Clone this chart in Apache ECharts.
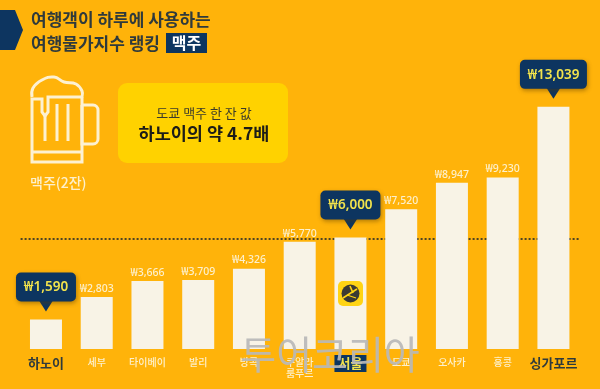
<!DOCTYPE html>
<html>
<head>
<meta charset="utf-8">
<style>
  html, body { margin: 0; padding: 0; background: #ffb30a; }
  #main { width: 600px; height: 389px; }
</style>
<script src="https://cdn.jsdelivr.net/npm/echarts@6/dist/echarts.min.js"></script>
</head>
<body>
<div id="main"></div>
<script>
var cities = ['하노이', '세부', '타이베이', '발리', '방콕', '쿠알라\n룸푸르', '서울', '도쿄', '오사카', '홍콩', '싱가포르'];
var prices = [1590, 2803, 3666, 3709, 4326, 5770, 6000, 7520, 8947, 9230, 13039];
// 말풍선으로 강조하는 도시 (cities 인덱스)
var calloutIdx = [0, 6, 10];
var seoulLine = 5930;

var FONT = '"Noto Sans CJK KR", "Noto Sans", sans-serif';
var NUM_FONT = '"Noto Sans", "Noto Sans CJK KR", sans-serif';
var BG = '#ffb30a';
var CREAM = '#f8f3e6';
var LABEL = '#fdf0cc';
var NAVY = '#0d3560';
var DARK = '#2f3a3c';
var MUG = '#fdf1d2';

function won(v) {
  return '₩' + v.toLocaleString('en-US');
}

function cityLabel(name) {
  if (name === '하노이' || name === '싱가포르') return '{strong|' + name + '}';
  if (name === '서울') return '{seoul|' + name + '}';
  if (name.indexOf('\n') > -1) {
    var p = name.split('\n');
    return '{normal|' + p[0] + '}\n{second|' + p[1] + '}';
  }
  return '{normal|' + name + '}';
}

// 말풍선 (박스 + 꼬리 + 금액)
function renderCallout(params, api) {
  var pos = api.coord([api.value(0), api.value(1)]);
  var text = won(api.value(1));
  var w = text.length > 6 ? 67 : 60;
  var tipY = pos[1] - 8;
  var boxBottom = tipY - 10;
  var boxTop = boxBottom - 29;
  return {
    type: 'group',
    children: [
      {
        type: 'polygon',
        shape: { points: [[pos[0] - 7, boxBottom - 1], [pos[0] + 7, boxBottom - 1], [pos[0], tipY]] },
        style: { fill: NAVY }
      },
      {
        type: 'rect',
        shape: { x: pos[0] - w / 2, y: boxTop, width: w, height: 29, r: 5 },
        style: { fill: NAVY, shadowBlur: 4, shadowOffsetX: 1, shadowOffsetY: 2, shadowColor: 'rgba(90,60,0,0.45)' }
      },
      {
        type: 'text',
        style: {
          text: text, x: pos[0], y: boxTop + 15,
          fill: '#f2e34c', font: '600 13.5px ' + NUM_FONT,
          textAlign: 'center', textVerticalAlign: 'middle'
        }
      }
    ]
  };
}

function calloutData() {
  return calloutIdx.map(function (i) { return [i, prices[i]]; });
}

var chart = echarts.init(document.getElementById('main'));
chart.setOption({
  backgroundColor: BG,
  animation: false,
  textStyle: { fontFamily: FONT },
  grid: { left: 20.6, right: 21.2, top: 89, bottom: 40 },
  xAxis: {
    type: 'category',
    data: cities,
    axisLine: { show: false },
    axisTick: { show: false },
    axisLabel: {
      interval: 0,
      margin: 6,
      formatter: cityLabel,
      rich: {
        normal: { fontFamily: FONT, fontSize: 10, fontWeight: 500, color: LABEL, lineHeight: 14 },
        second: { fontFamily: FONT, fontSize: 10, fontWeight: 500, color: LABEL, lineHeight: 9 },
        strong: { fontFamily: FONT, fontSize: 13, fontWeight: 'bold', color: DARK, lineHeight: 16 },
        seoul: { fontFamily: FONT, fontSize: 13, fontWeight: 'bold', color: '#f2e34c', backgroundColor: NAVY, width: 32, height: 17, lineHeight: 17, align: 'center' }
      }
    }
  },
  yAxis: { type: 'value', min: 0, max: 14000, show: false, splitLine: { show: false } },
  series: [
    {
      type: 'bar',
      z: 3,
      data: prices.map(function (v, i) {
        return {
          value: v,
          label: { show: calloutIdx.indexOf(i) === -1 }
        };
      }),
      barWidth: 32,
      itemStyle: { color: CREAM },
      label: {
        show: true,
        position: 'top',
        distance: 3,
        formatter: function (p) { return won(p.value); },
        fontFamily: NUM_FONT,
        fontSize: 10.5,
        fontWeight: 500,
        color: LABEL
      },
      markLine: {
        z: 1,
        silent: true,
        symbol: 'none',
        label: { show: false },
        lineStyle: { color: '#4d4426', type: [2, 2], width: 2, opacity: 1 },
        data: [{ yAxis: seoulLine }]
      }
    },
    {
      type: 'custom',
      z: 6,
      coordinateSystem: 'cartesian2d',
      data: calloutData(),
      renderItem: renderCallout
    }
  ],
  graphic: [
    // 제목
    { type: 'polygon', shape: { points: [[0, 10], [15, 10], [23, 30], [15, 50], [0, 50]] }, style: { fill: NAVY } },
    { type: 'text', x: 31, y: 20, style: { text: '여행객이 하루에 사용하는', fill: DARK, font: 'bold 17px ' + FONT, textVerticalAlign: 'middle' } },
    { type: 'text', x: 31, y: 44, style: { text: '여행물가지수 랭킹', fill: DARK, font: 'bold 17px ' + FONT, textVerticalAlign: 'middle' } },
    { type: 'rect', shape: { x: 166, y: 33, width: 41, height: 20 }, style: { fill: NAVY } },
    { type: 'text', x: 186.5, y: 43, style: { text: '맥주', fill: '#ffffff', font: 'bold 16px ' + FONT, textAlign: 'center', textVerticalAlign: 'middle' } },

    // 맥주잔
    { type: 'polyline', shape: { smooth: 0.45, points: [[32, 97], [33, 88], [42, 80], [54, 77], [64, 82], [76, 84], [82, 91], [82, 97]] }, style: { fill: 'none', stroke: MUG, lineWidth: 3 } },
    { type: 'polyline', shape: { points: [[82, 97], [48, 97], [48, 112], [45, 116], [42, 112], [42, 99], [32, 99], [32, 162], [82, 162], [82, 97]] }, style: { fill: 'none', stroke: MUG, lineWidth: 3 } },
    { type: 'line', shape: { x1: 45, y1: 116, x2: 45, y2: 141 }, style: { stroke: MUG, lineWidth: 3 } },
    { type: 'line', shape: { x1: 57, y1: 104, x2: 57, y2: 141 }, style: { stroke: MUG, lineWidth: 3 } },
    { type: 'line', shape: { x1: 68, y1: 104, x2: 68, y2: 141 }, style: { stroke: MUG, lineWidth: 3 } },
    { type: 'line', shape: { x1: 32, y1: 152, x2: 82, y2: 152 }, style: { stroke: MUG, lineWidth: 3 } },
    { type: 'rect', shape: { x: 82, y: 105, width: 16, height: 39, r: [0, 5, 5, 0] }, style: { fill: 'none', stroke: MUG, lineWidth: 3 } },
    { type: 'text', x: 30, y: 183, style: { text: '맥주(2잔)', fill: LABEL, font: '500 14px ' + FONT, textVerticalAlign: 'middle' } },

    // 안내 박스
    { type: 'rect', shape: { x: 118, y: 83, width: 170, height: 80, r: 9 }, style: { fill: '#ffd200' } },
    { type: 'text', x: 204, y: 113, style: { text: '도쿄 맥주 한 잔 값', fill: '#3a3a2c', font: '13px ' + FONT, textAlign: 'center', textVerticalAlign: 'middle' } },
    { type: 'text', x: 204, y: 133, style: { text: '하노이의 약 4.7배', fill: '#1c1c18', font: 'bold 17.5px ' + FONT, textAlign: 'center', textVerticalAlign: 'middle' } },

    // 서울 막대 아이콘
    { type: 'rect', z: 10, shape: { x: 338, y: 281, width: 25, height: 25, r: 5 }, style: { fill: '#ffd414' } },
    { type: 'circle', z: 11, shape: { cx: 350.5, cy: 293.5, r: 9 }, style: { fill: '#3b3a33' } },
    { type: 'line', z: 12, shape: { x1: 343, y1: 298, x2: 357, y2: 289 }, style: { stroke: '#ffd414', lineWidth: 1.6 } },
    { type: 'line', z: 12, shape: { x1: 350, y1: 286, x2: 353, y2: 293 }, style: { stroke: '#ffd414', lineWidth: 1.6 } },
    { type: 'line', z: 12, shape: { x1: 347, y1: 295, x2: 356, y2: 298 }, style: { stroke: '#ffd414', lineWidth: 1.2 } },

    // 워터마크
    { type: 'text', z: 100, x: 330, y: 354, style: { text: '투어코리아', fill: 'rgba(184,184,184,0.92)', font: '39px ' + FONT, textAlign: 'center', textVerticalAlign: 'middle' } }
  ]
});
</script>
</body>
</html>
